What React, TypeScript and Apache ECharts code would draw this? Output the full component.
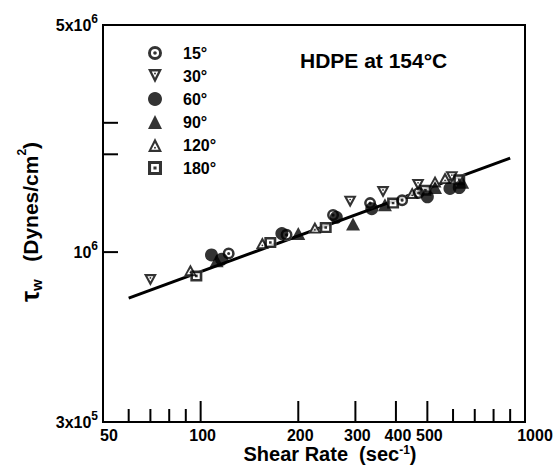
import React, { useEffect, useRef } from 'react';
import * as echarts from 'echarts';

const X_MIN = 50;
const X_MAX = 1000;
const Y_MIN = 3e5;
const Y_MAX = 5e6;

// Shear rate (1/s), wall shear stress (dynes/cm^2), per entrance angle
const deg15 = [[122, 0.99e6], [184, 1.13e6], [256, 1.30e6], [333, 1.415e6], [418, 1.445e6], [470, 1.52e6]];
const deg30 = [[70, 0.82e6], [289, 1.43e6], [365, 1.53e6], [468, 1.61e6], [595, 1.70e6]];
const deg60 = [[108, 0.98e6], [116, 0.95e6], [178, 1.14e6], [262, 1.28e6], [337, 1.36e6], [500, 1.48e6], [587, 1.57e6], [627, 1.58e6]];
const deg90 = [[112, 0.94e6], [200, 1.14e6], [295, 1.22e6], [370, 1.40e6], [528, 1.58e6], [640, 1.64e6]];
const deg120 = [[93, 0.88e6], [155, 1.066e6], [225, 1.19e6], [449, 1.52e6], [528, 1.65e6], [567, 1.69e6]];
const deg180 = [[97, 0.844e6], [164, 1.07e6], [243, 1.19e6], [392, 1.415e6], [493, 1.55e6], [627, 1.67e6]];
const fitLine = [[60, 0.722e6], [900, 1.947e6]];

const seriesNames = ['15°', '30°', '60°', '90°', '120°', '180°'];

const xMinorTicks = [60, 70, 80, 90, 600, 700, 800, 900];
const xMajorTicks = [100, 200, 300, 400, 500];
const xLabelValues = [50, 100, 200, 300, 400, 500, 1000];
const yTickValues = [1e6, 2e6, 2.5e6];
const yLabelValues = [5e6, 1e6, 3e5];
const yLabelMantissa = ['5x10', '10', '3x10'];
const yLabelExponent = ['6', '6', '5'];

const FONT = '"Liberation Sans", "DejaVu Sans", sans-serif';

const CIRCLE_DOT = 'path://M50,0A50,50,0,1,1,50,100A50,50,0,1,1,50,0ZM50,21A29,29,0,1,0,50,79A29,29,0,1,0,50,21ZM50,37A13,13,0,1,1,50,63A13,13,0,1,1,50,37Z';
const TRI_DOWN_DOT = 'path://M0,0L100,0L50,100ZM27,17L50,62L73,17ZM50,25A7,7,0,1,1,50,39A7,7,0,1,1,50,25Z';
const TRI_UP_DOT = 'path://M50,0L100,100L0,100ZM50,36L24,84L76,84ZM50,62A7,7,0,1,1,50,76A7,7,0,1,1,50,62Z';
const SQUARE_DOT = 'path://M0,0L100,0L100,100L0,100ZM22,22L22,78L78,78L78,22ZM39,39L61,39L61,61L39,61Z';
const TRI_DOWN = 'path://M0,0L100,0L50,100Z';

export default function App() {
  const ref = useRef<HTMLDivElement>(null);

  useEffect(() => {
    document.body.style.margin = '0';
    const chart = echarts.init(ref.current!, null, { renderer: 'svg' });

    const under = (data: number[][], symbol: string, size: any) => ({
      type: 'scatter',
      data,
      symbol,
      symbolSize: size,
      itemStyle: { color: '#fff' },
      z: 3,
      silent: true,
    });
    const marks = (name: string, data: number[][], symbol: string, size: any) => ({
      type: 'scatter',
      name,
      data,
      symbol,
      symbolSize: size,
      itemStyle: { color: '#000' },
      z: 4,
    });

    const option: any = {
      animation: false,
      backgroundColor: '#fff',
      grid: { left: 103, top: 25, right: 30, bottom: 44, show: true, borderColor: '#000', borderWidth: 2 },
      xAxis: {
        type: 'log', logBase: 10, min: X_MIN, max: X_MAX,
        axisLine: { show: true, lineStyle: { color: '#000', width: 2 } },
        axisTick: { show: false }, axisLabel: { show: false }, splitLine: { show: false },
      },
      yAxis: {
        type: 'log', logBase: 10, min: Y_MIN, max: Y_MAX,
        axisLine: { show: true, lineStyle: { color: '#000', width: 2 } },
        axisTick: { show: false }, axisLabel: { show: false }, splitLine: { show: false },
      },
      legend: {
        data: seriesNames,
        orient: 'vertical',
        left: 143,
        top: 40,
        itemWidth: 14,
        itemHeight: 14,
        itemGap: 7,
        itemTextGap: 8,
        textStyle: { fontFamily: FONT, fontSize: 16, fontWeight: 'bold', color: '#000', padding: [0, 0, 0, 16] },
        selectedMode: false,
      },
      graphic: [
        {
          type: 'text', left: 300, top: 50,
          style: { text: 'HDPE at 154°C', fontFamily: FONT, fontSize: 21, fontWeight: 'bold', fill: '#000' },
        },
        {
          type: 'text', x: 330, y: 455,
          style: {
            text: '{a|Shear Rate  (sec}{e|-1}{a|)}',
            align: 'center', verticalAlign: 'middle',
            rich: {
              a: { fontFamily: FONT, fontSize: 20, fontWeight: 'bold', fill: '#000', lineHeight: 18, verticalAlign: 'bottom' },
              e: { fontFamily: FONT, fontSize: 12, fontWeight: 'bold', fill: '#000', lineHeight: 12, padding: [0, 0, 8, 0], verticalAlign: 'bottom' },
            },
          },
        },
        {
          type: 'text', x: 30, y: 222, rotation: Math.PI / 2,
          style: {
            text: '{t|τ}{s|w}{a|   (Dynes/cm}{e|2}{a|)}',
            align: 'center', verticalAlign: 'middle',
            rich: {
              t: { fontFamily: FONT, fontSize: 25, fontWeight: 'bold', fill: '#000', lineHeight: 28, verticalAlign: 'middle' },
              s: { fontFamily: FONT, fontSize: 15, fontWeight: 'bold', fill: '#000', lineHeight: 28, verticalAlign: 'bottom' },
              a: { fontFamily: FONT, fontSize: 21, fontWeight: 'bold', fill: '#000', lineHeight: 28, verticalAlign: 'middle' },
              e: { fontFamily: FONT, fontSize: 12, fontWeight: 'bold', fill: '#000', lineHeight: 28, verticalAlign: 'top' },
            },
          },
        },
      ],
      series: [
        {
          type: 'line', data: fitLine, symbol: 'none', z: 2,
          lineStyle: { color: '#000', width: 3 },
        },
        under(deg15, 'circle', 12),
        under(deg30, TRI_DOWN, [13, 12]),
        under(deg120, 'triangle', [13, 12]),
        under(deg180, 'rect', [12, 11]),
        marks('15°', deg15, CIRCLE_DOT, 12),
        marks('30°', deg30, TRI_DOWN_DOT, [13, 12]),
        marks('60°', deg60, 'circle', 13),
        marks('90°', deg90, 'triangle', [14, 13]),
        marks('120°', deg120, TRI_UP_DOT, [13, 12]),
        marks('180°', deg180, SQUARE_DOT, [12, 11]),
        {
          type: 'custom', clip: false, silent: true, z: 5,
          data: [...xMinorTicks, ...xMajorTicks].map((v) => [v, Y_MIN]),
          renderItem: (params: any, api: any) => {
            const v = api.value(0);
            const p = api.coord([v, Y_MIN]);
            const len = xMajorTicks.includes(v) ? 21 : 13;
            return { type: 'line', shape: { x1: p[0], y1: p[1], x2: p[0], y2: p[1] - len }, style: { stroke: '#000', lineWidth: 2 } };
          },
        },
        {
          type: 'custom', clip: false, silent: true, z: 5,
          data: yTickValues.map((v) => [X_MIN, v]),
          renderItem: (params: any, api: any) => {
            const p = api.coord([X_MIN, api.value(1)]);
            return { type: 'line', shape: { x1: p[0], y1: p[1], x2: p[0] + 15, y2: p[1] }, style: { stroke: '#000', lineWidth: 2 } };
          },
        },
        {
          type: 'custom', clip: false, silent: true, z: 5,
          data: xLabelValues.map((v) => [v, Y_MIN]),
          renderItem: (params: any, api: any) => {
            const v = api.value(0);
            const p = api.coord([v, Y_MIN]);
            const first = params.dataIndex === 0;
            const last = params.dataIndex === xLabelValues.length - 1;
            return {
              type: 'text',
              x: first ? p[0] - 3 : last ? p[0] + 10 : p[0] + 2,
              y: p[1] + 13,
              style: {
                text: String(v), align: first ? 'left' : 'center', verticalAlign: 'middle',
                fontFamily: FONT, fontSize: 16, fontWeight: 'bold', fill: '#000',
              },
            };
          },
        },
        {
          type: 'custom', clip: false, silent: true, z: 5,
          data: yLabelValues.map((v) => [X_MIN, v]),
          renderItem: (params: any, api: any) => {
            const i = params.dataIndex;
            const p = api.coord([X_MIN, api.value(1)]);
            return {
              type: 'text',
              x: p[0] - 5,
              y: p[1] - 2,
              style: {
                text: '{m|' + yLabelMantissa[i] + '}{e|' + yLabelExponent[i] + '}',
                align: 'right', verticalAlign: 'middle',
                rich: {
                  m: { fontFamily: FONT, fontSize: 16, fontWeight: 'bold', fill: '#000', lineHeight: 20, verticalAlign: 'bottom' },
                  e: { fontFamily: FONT, fontSize: 12, fontWeight: 'bold', fill: '#000', lineHeight: 20, verticalAlign: 'top' },
                },
              },
            };
          },
        },
      ],
    };

    chart.setOption(option);
    return () => chart.dispose();
  }, []);

  return <div ref={ref} style={{ width: 555, height: 466 }} />;
}
